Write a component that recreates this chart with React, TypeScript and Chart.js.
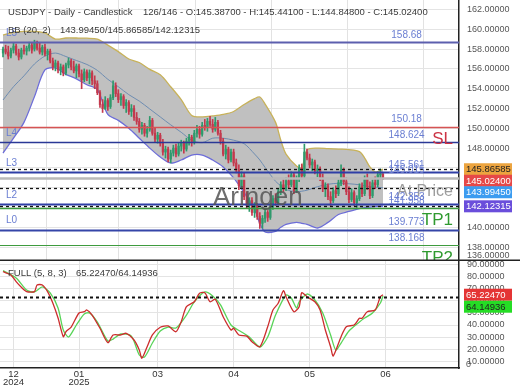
import React, { useEffect, useRef } from "react";
import { Chart, registerables } from "chart.js";
Chart.register(...registerables);

const FONT = '"Liberation Sans", Arial, Helvetica, sans-serif';
Chart.defaults.font.family = FONT;

// ---------- candle data ----------
const opens = [157.6,158.0,157.7,157.3,157.9,158.3,157.6,157.2,157.9,157.8,158.1,158.4,158.0,158.6,158.1,157.7,158.2,157.5,157.8,156.8,156.2,156.6,155.9,156.2,155.6,156.4,156.8,156.2,155.8,156.3,155.5,154.9,155.7,155.1,155.6,154.8,154.5,153.6,152.4,152.0,152.8,152.2,153.1,154.3,153.5,152.9,153.2,152.3,152.6,151.7,152.0,151.1,150.7,149.9,150.3,149.5,149.9,150.8,149.5,148.9,149.3,148.5,147.6,147.9,146.9,147.5,148.0,147.4,148.2,148.5,147.9,148.7,149.1,148.6,149.5,149.9,149.4,150.3,150.1,150.7,150.4,149.9,150.6,149.5,148.7,147.4,147.9,146.8,147.6,146.5,145.8,144.2,145.2,143.1,142.2,142.7,141.5,142.2,141.1,140.4,140.9,141.5,141.0,142.1,142.9,142.5,143.6,144.3,143.9,144.7,144.3,145.3,143.7,144.9,146.0,145.2,147.6,147.0,146.3,146.6,145.7,145.9,145.0,143.9,144.2,143.1,142.7,143.7,143.4,144.5,145.8,144.6,143.6,142.8,143.5,142.5,142.9,144.1,143.4,144.9,144.1,143.2,144.5,144.3,145.3,145.387];
const highs = [158.2,158.4,158.3,158.1,158.6,158.5,158.0,158.1,158.4,158.3,158.7,158.6,158.9,158.8,158.6,158.4,158.5,158.0,158.0,157.1,156.9,156.8,156.5,156.4,156.6,157.1,157.0,156.8,156.5,156.5,155.9,156.0,155.9,155.9,155.8,155.3,154.8,153.8,152.9,153.2,153.0,153.4,154.8,154.6,153.9,153.5,153.4,152.9,152.8,152.4,152.3,151.6,151.0,150.6,150.5,150.2,151.2,151.0,150.0,149.6,149.5,148.9,148.2,148.1,147.8,148.3,148.4,148.5,148.8,148.7,149.0,149.4,149.3,149.8,150.3,150.2,150.6,150.9,151.0,151.2,150.9,151.1,150.8,149.8,149.0,148.3,148.1,147.9,147.9,146.9,146.3,145.6,145.5,143.6,143.0,143.0,142.5,142.4,141.5,141.2,141.8,141.7,142.4,143.2,143.4,143.9,144.6,144.8,145.0,145.3,145.6,145.5,145.2,146.3,146.4,148.4,147.9,147.4,146.9,146.8,146.3,146.1,145.4,144.5,144.4,143.6,144.0,144.2,144.8,146.3,146.0,145.0,144.1,143.9,143.7,143.2,144.4,144.5,145.2,145.4,144.6,144.8,145.1,145.6,145.9,145.441];
const lows = [157.2,157.5,157.0,157.1,157.6,157.4,156.9,157.0,157.5,157.4,157.8,157.6,157.8,157.9,157.5,157.4,157.3,156.9,156.6,155.9,155.8,155.6,155.4,155.3,155.4,156.1,155.9,155.6,155.1,155.2,154.0,154.7,154.8,154.5,154.4,154.0,153.4,152.1,151.6,151.9,151.8,152.0,152.9,153.2,152.6,152.3,152.0,151.6,151.4,151.2,150.8,150.4,149.6,149.4,149.2,149.1,149.7,149.3,148.6,148.5,148.2,147.3,147.0,146.6,146.5,147.2,147.1,147.2,147.7,147.5,147.7,148.3,148.2,148.4,149.1,149.0,149.2,149.8,149.7,150.2,149.6,149.7,149.3,148.4,147.2,146.9,146.5,146.6,146.2,145.5,143.8,143.9,142.8,141.9,141.6,141.2,141.0,140.8,139.9,139.9,140.5,140.6,140.8,141.8,142.2,142.3,143.3,143.6,143.7,144.0,144.1,143.4,143.5,144.6,144.9,145.0,146.8,146.0,145.7,145.4,145.1,144.7,143.6,143.1,142.8,142.2,142.5,143.0,143.2,144.2,144.3,143.3,142.5,142.6,142.2,142.0,142.7,143.1,143.2,143.8,142.9,143.0,143.9,144.1,144.9,144.848];
const closes = [158.0,157.7,157.3,157.9,158.3,157.6,157.2,157.9,157.8,158.1,158.4,157.9,158.6,158.1,157.7,158.2,157.5,157.8,156.8,156.2,156.6,155.9,156.2,155.6,156.4,156.8,156.2,155.8,156.3,155.5,154.9,155.7,155.1,155.6,154.8,154.5,153.6,152.4,152.0,152.8,152.2,153.1,154.3,153.5,152.9,153.2,152.3,152.6,151.7,152.0,151.1,150.7,149.9,150.3,149.5,149.9,150.8,149.5,148.9,149.3,148.5,147.6,147.9,146.9,147.5,148.0,147.4,148.2,148.5,147.9,148.7,149.1,148.6,149.5,149.9,149.4,150.3,150.1,150.7,150.4,149.9,150.6,149.5,148.7,147.4,147.9,146.8,147.6,146.5,145.8,144.2,145.2,143.1,142.2,142.7,141.5,142.2,141.1,140.4,140.9,141.5,141.0,142.1,142.9,142.5,143.6,144.3,143.9,144.7,144.3,145.3,143.7,144.9,146.0,145.2,147.6,147.0,146.3,146.6,145.7,145.9,145.0,143.9,144.2,143.1,142.7,143.7,143.4,144.5,145.8,144.6,143.6,142.8,143.5,142.5,142.9,144.1,143.4,144.9,144.1,143.2,144.5,144.3,145.3,145.4,145.024];

// ---------- Bollinger bands ----------
const bbIdx = [0,4,8,12,16,20,24,28,32,36,40,44,48,52,56,60,64,68,72,76,80,84,88,92,96,98,100,104,106,108,112,114,116,120,124,128,132,136,138,140,142,145];
const bbUpper = [159.42,159.7,159.8,159.8,159.63,159.02,159.12,159.12,159.1,159.0,158.4,157.75,157.0,156.65,155.95,155.4,154.2,152.9,151.3,151.15,151.25,151.4,151.7,152.4,153.0,153.16,152.45,150.6,148.8,147.4,146.2,146.0,147.8,148.0,147.95,147.9,147.85,147.65,147.0,146.1,145.6,145.87];
const bbMid = [152.86,154.2,155.3,156.5,157.3,157.6,157.25,156.85,156.45,155.85,154.95,154.2,153.4,152.75,151.95,151.15,150.35,149.6,148.8,148.55,149.0,149.0,148.8,148.45,147.4,146.8,146.05,144.65,144.2,143.8,143.6,143.65,143.75,144.1,144.35,144.45,144.4,144.3,144.2,144.1,144.05,143.99];
const bbLower = [147.5,149.0,150.6,153.2,155.9,156.1,155.45,155.0,154.4,153.9,151.4,150.8,150.0,149.0,148.0,147.1,146.5,146.8,147.3,147.3,146.8,146.1,145.0,143.5,141.8,140.4,139.53,139.6,140.0,140.3,140.5,140.4,140.3,139.93,140.5,141.3,141.6,141.9,142.0,142.05,142.1,142.12];
const bbNow = { mid: 143.9945, upper: 145.86585, lower: 142.12315 };

// ---------- Stochastic ----------
const kIdx = [0,3,5,7,9,12,13,15,17,19,21,23,24,26,29,31,32,34,37,40,42,45,47,50,52,53,55,57,60,63,66,68,70,73,75,77,79,81,84,87,88,90,93,95,98,101,103,105,107,108,111,113,114,116,119,121,123,125,126,129,131,134,136,137,139,142,144,145];
const kVal = [84.4,81.7,76.1,71.4,67.8,67.8,73.3,73.3,67.8,58.3,45.8,30.3,34.4,38.3,50.0,51.1,52.5,48.3,37.3,25.3,31.7,31.7,33.1,27.5,19.2,12.3,21.9,31.7,38.1,39.2,34.4,42.8,55.3,59.4,66.4,66.9,59.4,61.4,46.9,35.8,37.3,31.7,30.8,26.1,21.9,38.6,52.5,58.1,68.6,63.6,51.1,55.3,66.9,63.6,59.4,52.5,35.8,21.9,14.2,30.3,38.6,40.0,45.6,45.6,51.1,52.5,63.6,65.2247];
const dIdx = [0,5,9,12,15,18,21,23,25,28,31,33,36,40,42,45,49,52,54,57,60,63,66,70,73,77,80,83,87,91,94,98,101,104,108,110,112,113,116,119,122,125,127,129,132,136,138,141,144,145];
const dVal = [85.3,79.2,69.2,67.5,71.7,66.7,54.2,35.8,30.0,40.0,49.2,50.0,42.5,26.7,28.3,32.5,30.8,15.0,13.3,25.0,35.0,38.3,37.5,48.3,59.2,67.5,64.2,56.7,40.0,34.2,30.0,21.7,30.0,48.3,65.0,62.5,54.2,59.2,65.8,60.8,50.0,31.7,19.2,25.0,35.0,42.5,45.8,50.0,58.3,64.14936];
const stochLevel = 63.5;

// ---------- axes / ticks ----------
const priceTicks = [138,140,142,144,146,148,150,152,154,156,158,160,162];
const stochTicks = [10,20,30,40,50,60,70,80,90];
const monthIdx = [4,29,59,88,117,146];
const monthLabels: (string | string[])[] = [["12","2024"],["01","2025"],"03","04","05","06"];

// ---------- levels ----------
const levelValues = [158.68,150.18,148.624,145.561,145.015,142.353,141.958,139.773,138.168];
const levelText = ["158.68","150.18","148.624","145.561","145.015","142.353","141.958","139.773","138.168"];
const levelTags = ["L5","","L4","L3","","L2","","L0",""];
const levelSide = ["","SL","","","At Price","","TP1","","TP2"];
const levelColors = ["#5c5fae","#d65454","#2a3896","#2f3ea6","#b9b9b9","#2f3ea6","#3e9b3e","#3545a8","#3e9b3e"];
const levelWidths = [2,1.5,1.5,2,2.5,2,1.5,2,1.2];
const sideColors: Record<string,string> = { SL: "#cc3344", TP1: "#2f9a2f", TP2: "#2f9a2f", "At Price": "#9c9c9c" };

const symbolTitle = "USDJPY - Daily - Candlestick";
const barPos = "126/146";

const UP = "#2f9a6c";
const DOWN = "#c4394d";
const N = closes.length;
const idxs = closes.map((_, i) => i);
const candleColors = idxs.map(i => (closes[i] >= opens[i] ? UP : DOWN));
const X_MIN = -1.15;
const X_MAX = 174;

function hline(ctx: CanvasRenderingContext2D, x0: number, x1: number, y: number) {
  ctx.beginPath();
  ctx.moveTo(x0, y);
  ctx.lineTo(x1, y);
  ctx.stroke();
}

function drawBoxes(ctx: CanvasRenderingContext2D, scale: any, vals: number[], bgs: string[], fgs: string[], spacing: number) {
  let prev = -1e9;
  vals.forEach((v, k) => {
    let cy = scale.getPixelForValue(v);
    if (cy < prev + spacing) cy = prev + spacing;
    prev = cy;
    ctx.fillStyle = bgs[k];
    ctx.fillRect(464, cy - 6, 48, 12);
    ctx.fillStyle = fgs[k];
    ctx.font = `9.5px ${FONT}`;
    ctx.textAlign = "left";
    ctx.textBaseline = "middle";
    ctx.fillText(v.toFixed(5), 466, cy + 0.5);
  });
}

const mainOverlay = {
  id: "mainOverlay",
  afterDatasetsDraw(chart: any) {
    const { ctx, chartArea: a, scales } = chart;
    const y = scales.y;
    const x = scales.x;
    ctx.save();
    ctx.beginPath();
    ctx.rect(a.left, a.top, a.right - a.left, a.bottom - a.top);
    ctx.clip();
    levelValues.forEach((v, k) => {
      const py = Math.round(y.getPixelForValue(v)) + 0.5;
      ctx.strokeStyle = levelColors[k];
      ctx.lineWidth = levelWidths[k];
      ctx.setLineDash([]);
      hline(ctx, a.left, a.right, py);
    });
    [bbNow.upper, bbNow.mid, bbNow.lower].forEach(v => {
      const py = Math.round(y.getPixelForValue(v)) + 0.5;
      ctx.strokeStyle = "#111";
      ctx.lineWidth = 1.3;
      ctx.setLineDash([3, 3]);
      hline(ctx, a.left, a.right, py);
    });
    ctx.setLineDash([]);
    const lx = x.getPixelForValue(154);
    levelValues.forEach((v, k) => {
      const py = y.getPixelForValue(v);
      ctx.font = `10px ${FONT}`;
      ctx.fillStyle = "#6a7ed2";
      ctx.textBaseline = "bottom";
      ctx.textAlign = "center";
      ctx.fillText(levelText[k], lx, py - 2);
      if (levelTags[k]) {
        ctx.textAlign = "left";
        ctx.fillText(levelTags[k], a.left + 6, py - 4);
      }
      const side = levelSide[k];
      if (side) {
        ctx.fillStyle = sideColors[side];
        ctx.textAlign = "right";
        ctx.textBaseline = "top";
        ctx.font = side === "At Price" ? `16px ${FONT}` : `17px ${FONT}`;
        ctx.fillText(side, a.right - 6, py + (side === "At Price" ? 6 : 4));
      }
    });
    ctx.font = `26px ${FONT}`;
    ctx.fillStyle = "rgba(85,85,85,0.85)";
    ctx.textAlign = "left";
    ctx.textBaseline = "alphabetic";
    ctx.fillText("Aringen", a.left + 213, a.top + 205);
    ctx.restore();
  },
  afterDraw(chart: any) {
    const { ctx, chartArea: a, scales } = chart;
    ctx.save();
    ctx.font = `9.5px ${FONT}`;
    ctx.fillStyle = "#3a3a3a";
    ctx.textAlign = "left";
    ctx.textBaseline = "middle";
    const L = N - 1;
    ctx.fillText(symbolTitle, 8, 12);
    ctx.fillText(
      `${barPos} - O:${opens[L].toFixed(5)} - H:${highs[L].toFixed(5)} - L:${lows[L].toFixed(5)} - C:${closes[L].toFixed(5)}`,
      143, 12);
    ctx.fillText("BB (20, 2)", 8, 30);
    ctx.fillText(`${bbNow.mid.toFixed(5)}/${bbNow.upper.toFixed(5)}/${bbNow.lower.toFixed(5)}`, 60, 30);
    ctx.fillStyle = "#555";
    ctx.font = `9px ${FONT}`;
    ctx.fillText("136.00000", a.right + 8, a.bottom - 4);
    drawBoxes(ctx, scales.y,
      [bbNow.upper, closes[L], bbNow.mid, bbNow.lower],
      ["#eca43f", "#e64848", "#3c9cf0", "#6a4edb"],
      ["#222", "#fff", "#fff", "#fff"], 11.5);
    ctx.strokeStyle = "#222";
    ctx.lineWidth = 1.5;
    hline(ctx, 0, 520, a.bottom + 0.25);
    ctx.restore();
  },
};

const stochOverlay = {
  id: "stochOverlay",
  afterDatasetsDraw(chart: any) {
    const { ctx, chartArea: a, scales } = chart;
    ctx.save();
    const py = Math.round(scales.y.getPixelForValue(stochLevel)) + 0.5;
    ctx.strokeStyle = "#111";
    ctx.lineWidth = 2;
    ctx.setLineDash([3, 3]);
    hline(ctx, a.left, a.right, py);
    ctx.restore();
  },
  afterDraw(chart: any) {
    const { ctx, chartArea: a, scales } = chart;
    ctx.save();
    ctx.font = `9.5px ${FONT}`;
    ctx.fillStyle = "#3a3a3a";
    ctx.textAlign = "left";
    ctx.textBaseline = "middle";
    ctx.fillText("FULL (5, 8, 3)", 8, 12);
    ctx.fillText(`${kVal[kVal.length - 1].toFixed(5)}/${dVal[dVal.length - 1].toFixed(5)}`, 76, 12);
    ctx.fillStyle = "#555";
    ctx.font = `9px ${FONT}`;
    ctx.fillText("0", a.right + 7, a.bottom - 3);
    drawBoxes(ctx, scales.y,
      [kVal[kVal.length - 1], dVal[dVal.length - 1]],
      ["#e43535", "#25dd25"], ["#fff", "#222"], 12);
    ctx.restore();
  },
};

function noPad(s: any) {
  s.paddingTop = 0; s.paddingBottom = 0; s.paddingLeft = 0; s.paddingRight = 0;
}

function xScale(showLabels: boolean) {
  return {
    type: "linear" as const,
    min: X_MIN,
    max: X_MAX,
    offset: false,
    afterBuildTicks: (s: any) => { s.ticks = monthIdx.map(v => ({ value: v })); },
    afterFit: (s: any) => { s.height = showLabels ? 22 : 0; noPad(s); },
    ticks: {
      display: showLabels,
      autoSkip: false,
      maxRotation: 0,
      padding: 2,
      color: "#333",
      font: { size: 9.5, lineHeight: 0.9 },
      callback: (_v: any, i: number) => monthLabels[i],
    },
    grid: { color: "#e2e2e2", drawTicks: false },
    border: showLabels ? { display: true, color: "#222", width: 1.5 } : { display: false },
  };
}

function yScale(min: number, max: number, ticks: number[]) {
  return {
    type: "linear" as const,
    position: "right" as const,
    min, max,
    afterBuildTicks: (s: any) => { s.ticks = ticks.map(v => ({ value: v })); },
    afterFit: (s: any) => { s.width = 61; noPad(s); },
    ticks: { padding: 8, autoSkip: false, color: "#555", font: { size: 9 }, callback: (v: any) => Number(v).toFixed(5) },
    grid: { color: "#e4e4e4", drawTicks: false },
    border: { display: true, color: "#222", width: 1.5 },
  };
}

export default function App() {
  const mainRef = useRef<HTMLCanvasElement>(null);
  const stochRef = useRef<HTMLCanvasElement>(null);

  useEffect(() => {
    const main = new Chart(mainRef.current!, {
      type: "bar",
      data: {
        datasets: [
          {
            type: "bar", label: "body",
            data: idxs.map(i => ({ x: i, y: [opens[i], closes[i]] })) as any,
            backgroundColor: candleColors, barThickness: 1.6, grouped: false, minBarLength: 1, order: 0,
          },
          {
            type: "bar", label: "wick",
            data: idxs.map(i => ({ x: i, y: [lows[i], highs[i]] })) as any,
            backgroundColor: candleColors, barThickness: 1, grouped: false, order: 1,
          },
          {
            type: "line", label: "upper",
            data: bbIdx.map((x, k) => ({ x, y: bbUpper[k] })),
            borderColor: "#c8b25a", borderWidth: 1.3, pointRadius: 0, tension: 0.3,
            fill: "+1", backgroundColor: "#c0c0c0", order: 5,
          },
          {
            type: "line", label: "lower",
            data: bbIdx.map((x, k) => ({ x, y: bbLower[k] })),
            borderColor: "#6d6dd8", borderWidth: 1.3, pointRadius: 0, tension: 0.3, fill: false, order: 4,
          },
          {
            type: "line", label: "mid",
            data: bbIdx.map((x, k) => ({ x, y: bbMid[k] })),
            borderColor: "#6e8db2", borderWidth: 1, pointRadius: 0, tension: 0.3, fill: false, order: 3,
          },
        ],
      },
      options: {
        responsive: false,
        animation: false,
        layout: { padding: { left: 0, right: 0, top: 0, bottom: 1 } },
        plugins: { legend: { display: false }, tooltip: { enabled: false } },
        scales: {
          x: xScale(false) as any,
          y: yScale(136.7, 162.96, priceTicks) as any,
        },
      },
      plugins: [mainOverlay],
    });

    const stoch = new Chart(stochRef.current!, {
      type: "line",
      data: {
        datasets: [
          {
            label: "%K", data: kIdx.map((x, k) => ({ x, y: kVal[k] })),
            borderColor: "#cc2d2d", borderWidth: 1.3, pointRadius: 0, tension: 0.25, order: 0,
          },
          {
            label: "%D", data: dIdx.map((x, k) => ({ x, y: dVal[k] })),
            borderColor: "#58d458", borderWidth: 1.3, pointRadius: 0, tension: 0.25, order: 1,
          },
        ],
      },
      options: {
        responsive: false,
        animation: false,
        layout: { padding: 0 },
        plugins: { legend: { display: false }, tooltip: { enabled: false } },
        scales: {
          x: xScale(true) as any,
          y: yScale(4.2, 93.3, stochTicks) as any,
        },
      },
      plugins: [stochOverlay],
    });

    return () => { main.destroy(); stoch.destroy(); };
  }, []);

  return (
    <div style={{ position: "fixed", left: 0, top: 0, width: 520, height: 390, background: "#fff" }}>
      <canvas ref={mainRef} width={520} height={261} style={{ position: "absolute", left: 0, top: 0 }} />
      <canvas ref={stochRef} width={520} height={129} style={{ position: "absolute", left: 0, top: 261 }} />
    </div>
  );
}
